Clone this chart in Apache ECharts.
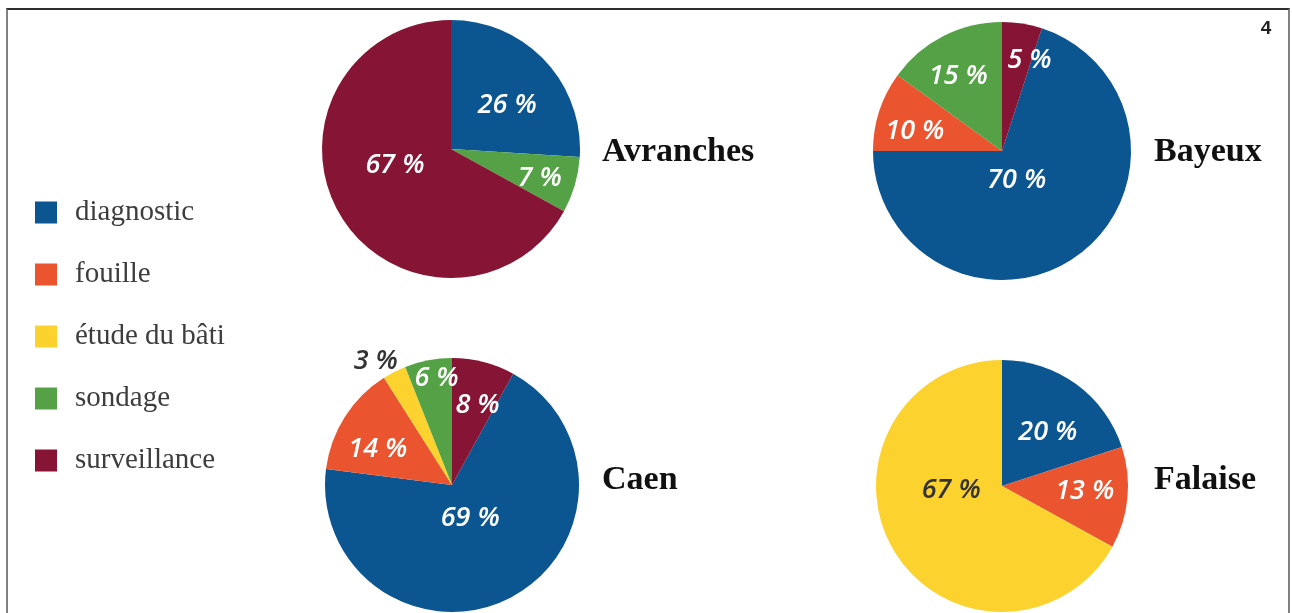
<!DOCTYPE html>
<html>
<head>
<meta charset="utf-8">
<script src="https://cdn.jsdelivr.net/npm/echarts@6/dist/echarts.min.js"></script>
<style>
  html, body { margin: 0; padding: 0; background: #fff; }
  #chart { width: 1292px; height: 613px; }
  #frame {
    position: absolute; left: 6px; top: 8px; width: 1280px; height: 700px;
    border-left: 2px solid #808080; border-right: 2px solid #808080;
    border-top: 2px solid #2e2e2e; pointer-events: none;
  }
</style>
</head>
<body>
<div id="chart"></div>
<div id="frame"></div>
<script>
// catégories (ordre de la légende)
var categories = ['diagnostic', 'fouille', 'étude du bâti', 'sondage', 'surveillance'];
var colors = ['#0b5590', '#ea5530', '#fcd22e', '#54a245', '#861434'];

// répartition en % par ville (0 = absent)
var cities = ['Avranches', 'Bayeux', 'Caen', 'Falaise'];
var avranches = [26, 0, 0, 7, 67];
var bayeux = [70, 10, 0, 15, 5];
var caen = [69, 14, 3, 6, 8];
var falaise = [20, 13, 67, 0, 0];
var values = [avranches, bayeux, caen, falaise];

// mise en page des camemberts
var centers = [[451, 149], [1002, 151], [452, 485], [1002, 486]];
var radii = [129, 129, 127, 126];
var startAngles = [90, 72, 61.2, 90];
var titlePos = [[602, 152], [1154, 152], [602, 480], [1154, 480]];

// décalages des étiquettes (dx, dy) par catégorie
var labelShift = [
  [[7, 3], [0, 0], [0, 0], [24, 10], [2, -18]],
  [[-25, -25], [-23, 1], [0, 0], [-13, -15], [17, -24]],
  [[-12, -26], [-18, 0], [-46, -64], [-3, -41], [9, -15]],
  [[7, 0], [17, -1], [6, -29], [0, 0], [0, 0]]
];

var chart = echarts.init(document.getElementById('chart'));

var catIdx = []; // catégorie de chaque part affichée
var series = values.map(function (vals, s) {
  var data = [];
  catIdx[s] = [];
  vals.forEach(function (v, i) {
    if (!v) return;
    catIdx[s].push(i);
    data.push({
      name: categories[i],
      value: v,
      itemStyle: { color: colors[i] },
      label: { color: i === 2 ? '#333333' : '#ffffff' }
    });
  });
  return {
    name: cities[s],
    type: 'pie',
    center: centers[s],
    radius: radii[s],
    startAngle: startAngles[s],
    clockwise: true,
    avoidLabelOverlap: false,
    animation: false,
    emphasis: { disabled: true },
    itemStyle: { borderWidth: 0 },
    label: {
      show: true,
      position: 'inside',
      formatter: '{c} %',
      fontFamily: 'Open Sans',
      fontStyle: 'italic',
      fontWeight: 600,
      fontSize: 27
    },
    labelLine: { show: false },
    labelLayout: function (p) {
      var c = catIdx[p.seriesIndex][p.dataIndex];
      var d = labelShift[p.seriesIndex][c];
      return { dx: d[0], dy: d[1] };
    },
    data: data
  };
});

var titles = cities.map(function (name, s) {
  return {
    type: 'text',
    x: titlePos[s][0],
    y: titlePos[s][1],
    style: {
      text: name,
      font: 'bold 34px "Liberation Serif"',
      fill: '#111',
      verticalAlign: 'middle'
    }
  };
});
titles.push({
  type: 'text',
  x: 1266,
  y: 29,
  style: {
    text: '4',
    font: 'bold 19px "Liberation Sans Narrow", "Liberation Sans"',
    fill: '#222',
    align: 'center',
    verticalAlign: 'middle'
  }
});

chart.setOption({
  backgroundColor: '#fff',
  animation: false,
  legend: {
    data: categories,
    orient: 'vertical',
    left: 30,
    top: 193,
    itemWidth: 22,
    itemHeight: 22,
    itemGap: 33,
    icon: 'rect',
    selectedMode: false,
    textStyle: {
      fontFamily: 'Liberation Serif',
      fontSize: 29,
      color: '#3d3d3d',
      padding: [0, 0, 0, 13]
    }
  },
  graphic: titles,
  series: series
});
</script>
</body>
</html>
